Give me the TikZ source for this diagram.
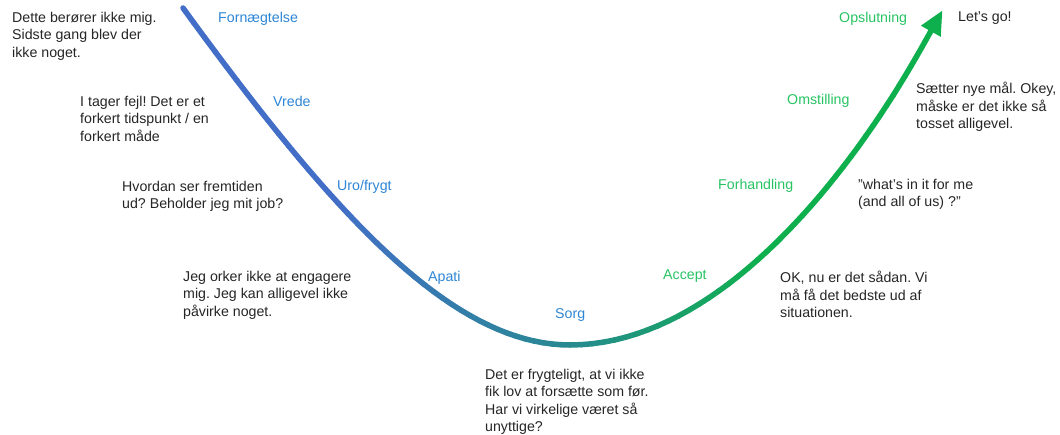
\documentclass[tikz,border=0pt]{standalone}
\usepackage{fontspec}
\setmainfont{Liberation Sans}
\usetikzlibrary{arrows.meta}
\definecolor{txt}{RGB}{38,38,38}
\definecolor{lblue}{RGB}{46,134,214}
\definecolor{lgreen}{RGB}{40,196,100}
\definecolor{cblue}{RGB}{66,110,200}
\definecolor{cteal}{RGB}{40,138,145}
\definecolor{cgreen}{RGB}{14,176,78}
\frenchspacing
\begin{document}
\begin{tikzpicture}[x=1pt,y=-1pt,
  font=\fontsize{14.2}{17.5}\selectfont,
  note/.style={anchor=north west, inner sep=0pt, align=left, text=txt},
  bluelbl/.style={anchor=north west, inner sep=0pt, text=lblue},
  greenlbl/.style={anchor=north west, inner sep=0pt, text=lgreen},
  curveseg/.style={line width=5.5pt, line cap=round}]
\useasboundingbox (0,0) rectangle (1060,435);
\fill[white] (0,0) rectangle (1060,435);

% gradient curve
\foreach \ax/\ay/\bx/\by/\cx/\cy/\dx/\dy in {183/8/330/210/450/345/570/345, 570/345/720/345/852/172/922/47}{
  \foreach \i in {0,...,39}{
    \pgfmathsetmacro\ta{\i/40}
    \pgfmathsetmacro\tb{(\i+1)/40}
    \pgfmathsetmacro\xa{(1-\ta)^3*\ax+3*(1-\ta)^2*\ta*\bx+3*(1-\ta)*\ta^2*\cx+\ta^3*\dx}
    \pgfmathsetmacro\ya{(1-\ta)^3*\ay+3*(1-\ta)^2*\ta*\by+3*(1-\ta)*\ta^2*\cy+\ta^3*\dy}
    \pgfmathsetmacro\xb{(1-\tb)^3*\ax+3*(1-\tb)^2*\tb*\bx+3*(1-\tb)*\tb^2*\cx+\tb^3*\dx}
    \pgfmathsetmacro\yb{(1-\tb)^3*\ay+3*(1-\tb)^2*\tb*\by+3*(1-\tb)*\tb^2*\cy+\tb^3*\dy}
    \pgfmathsetmacro\xm{(\xa+\xb)/2}
    \pgfmathtruncatemacro\pa{max(0,min(100,(\xm-330)/240*100))}
    \pgfmathtruncatemacro\pb{max(0,min(100,(\xm-570)/190*100))}
    \ifdim\xm pt<570pt
      \draw[curveseg, color=cteal!\pa!cblue] (\xa,\ya) -- (\xb,\yb);
    \else
      \draw[curveseg, color=cgreen!\pb!cteal] (\xa,\ya) -- (\xb,\yb);
    \fi
  }
}
\coordinate (cend) at (922,47);
\coordinate (tip) at (942.5,10.3);
\draw[cgreen, line width=5.5pt, -{Triangle[length=24pt,width=21pt]}] (cend) -- (tip);

% stage labels
\node[bluelbl] (l1) at (218,12) {Fornægtelse};
\node[bluelbl] (l2) at (273,96) {Vrede};
\node[bluelbl] (l3) at (337,180) {Uro/frygt};
\node[bluelbl] (l4) at (428,271) {Apati};
\node[bluelbl] (l5) at (555,308) {Sorg};
\node[greenlbl] (l6) at (663,270) {Accept};
\node[greenlbl] (l7) at (718,179) {Forhandling};
\node[greenlbl] (l8) at (787,94) {Omstilling};
\node[greenlbl] (l9) at (839,12) {Opslutning};

% notes
\node[note] (n1) at (12,12) {Dette berører ikke mig.\\Sidste gang blev der\\ikke noget.};
\node[note] (n2) at (80,96) {I tager fejl! Det er et\\forkert tidspunkt / en\\forkert måde};
\node[note] (n3) at (122,181) {Hvordan ser fremtiden\\ud? Beholder jeg mit job?};
\node[note] (n4) at (183,271) {Jeg orker ikke at engagere\\mig. Jeg kan alligevel ikke\\påvirke noget.};
\node[note] (n5) at (485,369) {Det er frygteligt, at vi ikke\\fik lov at forsætte som før.\\Har vi virkelige været så\\unyttige?};
\node[note] (n6) at (780,271) {OK, nu er det sådan. Vi\\må få det bedste ud af\\situationen.};
\node[note] (n7) at (858,179) {”what’s in it for me\\(and all of us) ?”};
\node[note] (n8) at (916,82) {Sætter nye mål. Okey,\\måske er det ikke så\\tosset alligevel.};
\node[note] (n9) at (958,12) {Let’s go!};
\end{tikzpicture}
\end{document}
